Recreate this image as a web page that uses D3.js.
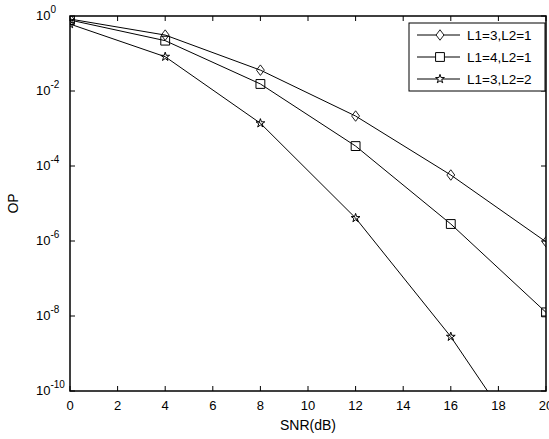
<!DOCTYPE html>
<html>
<head>
<meta charset="utf-8">
<script src="https://cdn.jsdelivr.net/npm/d3@7"></script>
<style>
  body { margin: 0; background: #fff; }
  text { font-family: Arial, "Liberation Sans", sans-serif; }
</style>
</head>
<body>
<div id="chart"></div>
<script>
const snr = [0, 4, 8, 12, 16, 20];
const opL31 = [0.83, 0.31, 0.036, 2.15e-3, 5.75e-5, 9.5e-7];
const opL41 = [0.78, 0.22, 0.0154, 3.4e-4, 2.84e-6, 1.25e-8];
const opL32 = [0.61, 0.082, 1.38e-3, 4.1e-6, 2.8e-9, 5e-13];
const seriesNames = ['L1=3,L2=1', 'L1=4,L2=1', 'L1=3,L2=2'];
const xTicks = [0, 2, 4, 6, 8, 10, 12, 14, 16, 18, 20];
const yExps = [0, -2, -4, -6, -8, -10];

const width = 549, height = 439;
const pl = 70, pr = 546, pt = 16, pb = 391;

const svg = d3.select('#chart').append('svg')
  .attr('width', width)
  .attr('height', height);

const x = d3.scaleLinear().domain([0, 20]).range([pl, pr]);
const y = d3.scaleLog().domain([1e-10, 1]).range([pb, pt]);

svg.append('defs').append('clipPath').attr('id', 'plot')
  .append('rect')
  .attr('x', pl).attr('y', pt)
  .attr('width', pr - pl).attr('height', pb - pt);

// ticks on all four sides, pointing inward
const tl = 5;
const g = svg.append('g').attr('stroke', '#000').attr('stroke-width', 1);
xTicks.forEach(t => {
  g.append('line').attr('x1', x(t)).attr('x2', x(t)).attr('y1', pb).attr('y2', pb - tl);
  g.append('line').attr('x1', x(t)).attr('x2', x(t)).attr('y1', pt).attr('y2', pt + tl);
});
yExps.forEach(e => {
  const yy = y(Math.pow(10, e));
  g.append('line').attr('x1', pl).attr('x2', pl + tl).attr('y1', yy).attr('y2', yy);
  g.append('line').attr('x1', pr).attr('x2', pr - tl).attr('y1', yy).attr('y2', yy);
});

// tick labels
svg.selectAll('.xl').data(xTicks).enter().append('text')
  .attr('x', d => x(d))
  .attr('y', pb + 19)
  .attr('text-anchor', 'middle')
  .attr('font-size', 13)
  .text(d => d);

const yl = svg.selectAll('.yl').data(yExps).enter().append('text')
  .attr('x', 36)
  .attr('y', d => y(Math.pow(10, d)) + 4)
  .attr('font-size', 13);
yl.append('tspan').text('10');
yl.append('tspan').attr('dy', -7).attr('font-size', 10).text(d => d);

// axis labels
svg.append('text')
  .attr('x', (pl + pr) / 2)
  .attr('y', 430)
  .attr('text-anchor', 'middle')
  .attr('font-size', 14)
  .text('SNR(dB)');
svg.append('text')
  .attr('transform', `translate(18, ${(pt + pb) / 2}) rotate(-90)`)
  .attr('text-anchor', 'middle')
  .attr('font-size', 14)
  .text('OP');

// markers
const sym = [
  d3.symbol().type(d3.symbolDiamond2).size(70),
  d3.symbol().type(d3.symbolSquare).size(78),
  d3.symbol().type(d3.symbolStar).size(24)
];
const series = [opL31, opL41, opL32];

const plot = svg.append('g').attr('clip-path', 'url(#plot)');
const line = d3.line().x((d, i) => x(snr[i])).y(d => y(d));
series.forEach((vals, k) => {
  plot.append('path')
    .attr('d', line(vals))
    .attr('fill', 'none')
    .attr('stroke', '#000')
    .attr('stroke-width', 1);
  plot.selectAll('.m' + k).data(vals).enter().append('path')
    .attr('transform', (d, i) => `translate(${x(snr[i])},${y(d)})${k === 0 ? ' scale(0.75,1)' : ''}`)
    .attr('d', sym[k]())
    .attr('fill', 'none')
    .attr('stroke', '#000')
    .attr('stroke-width', 1);
});

// frame
svg.append('rect')
  .attr('x', pl).attr('y', pt)
  .attr('width', pr - pl).attr('height', pb - pt)
  .attr('fill', 'none')
  .attr('stroke', '#000')
  .attr('stroke-width', 1.5);

// legend
const lg = svg.append('g');
lg.append('rect')
  .attr('x', 409).attr('y', 23)
  .attr('width', 136).attr('height', 68)
  .attr('fill', '#fff')
  .attr('stroke', '#000')
  .attr('stroke-width', 1);
seriesNames.forEach((name, k) => {
  const ly = 35 + k * 22;
  lg.append('line')
    .attr('x1', 417).attr('x2', 460)
    .attr('y1', ly).attr('y2', ly)
    .attr('stroke', '#000');
  lg.append('path')
    .attr('transform', `translate(440,${ly})${k === 0 ? ' scale(0.75,1)' : ''}`)
    .attr('d', sym[k]())
    .attr('fill', '#fff')
    .attr('stroke', '#000');
  lg.append('text')
    .attr('x', 467)
    .attr('y', ly + 5)
    .attr('font-size', 13.5)
    .text(name);
});
</script>
</body>
</html>
